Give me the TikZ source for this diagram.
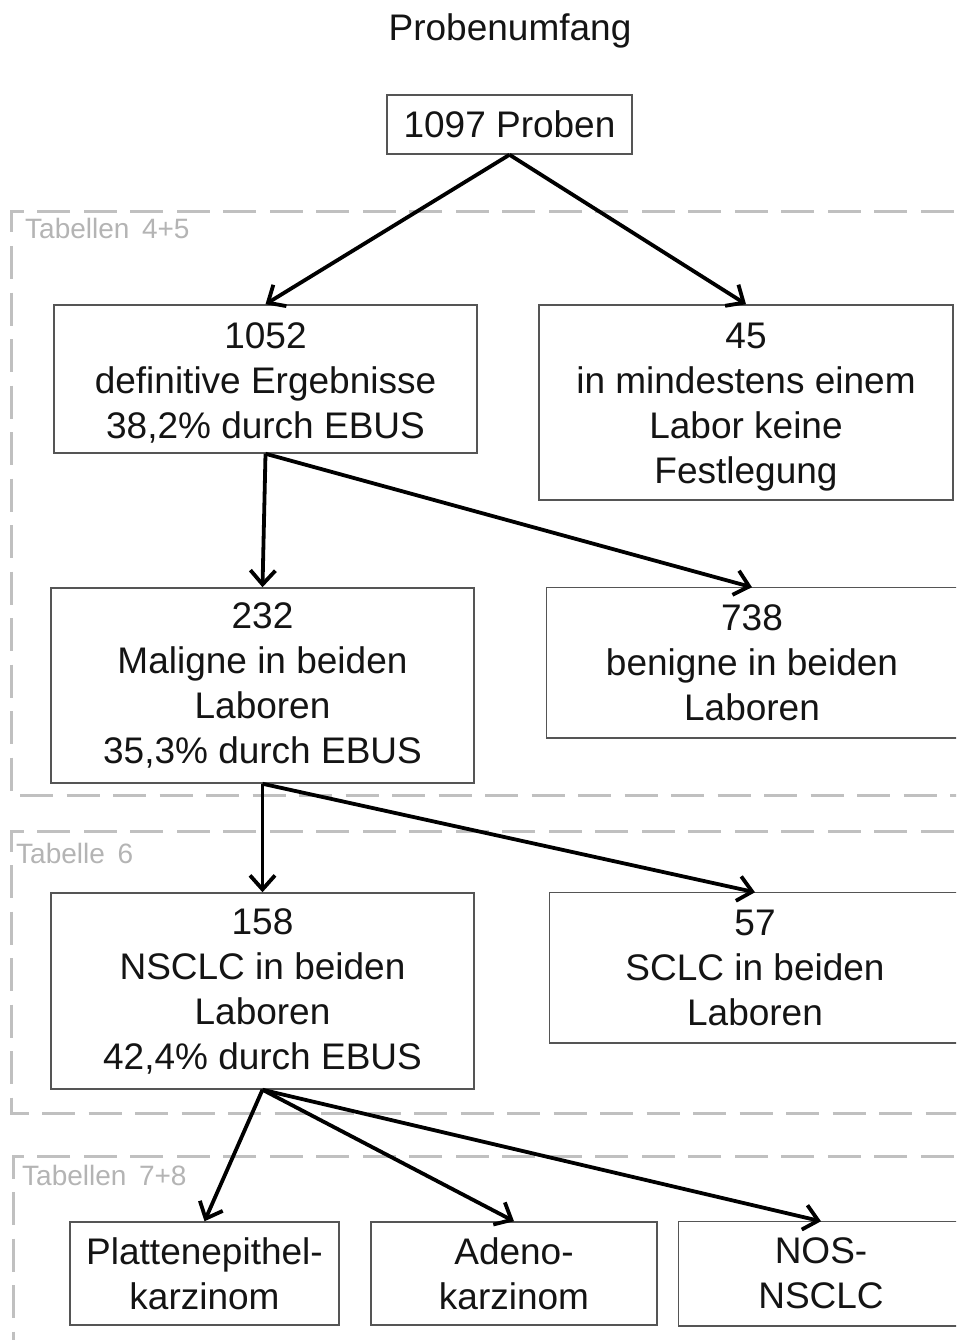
\documentclass[tikz,border=0pt]{standalone}
\usepackage{fontspec}
\setmainfont{Liberation Sans}
\usetikzlibrary{arrows.meta}
\definecolor{boxline}{RGB}{85,85,85}
\definecolor{grpline}{RGB}{192,192,192}
\definecolor{grptext}{RGB}{180,180,180}
\definecolor{ink}{RGB}{20,20,20}
\newcommand{\tallstrut}{\rule{0pt}{34pt}}
\tikzset{
  stepbox/.style={draw=boxline, line width=1.5pt, rectangle, align=center,
    inner sep=0pt, text=ink, font=\fontsize{37}{45}\selectfont},
  openbox/.style={stepbox, draw=none},
  edge/.style={draw=boxline, line width=1.5pt},
  group/.style={draw=grpline, line width=3pt, dash pattern=on 33pt off 13.5pt},
  grplabel/.style={anchor=west, inner sep=0pt, text=grptext,
    font=\fontsize{28}{32}\selectfont},
  flow/.style={draw=black, line width=3.8pt,
    -{Straight Barb[length=14pt,width=25pt,line width=3.8pt]}}
}
\begin{document}
\begin{tikzpicture}[x=1pt,y=-1pt]
\useasboundingbox (0,0) rectangle (956,1340);
\fill[white] (0,0) rectangle (956,1340);
\clip (0,0) rectangle (956,1340);

% dashed table groups
\draw[group] (1000,212) -- (11,212) -- (11,795) -- (1000,795);
\draw[group] (1000,831) -- (11,831) -- (11,1113) -- (1000,1113);
\draw[group] (1000,1156) -- (13,1156) -- (13,1400);
\node[grplabel] (g1) at (25,228) {Tabellen\hspace{0.45em}4+5};
\node[grplabel] (g2) at (16,853) {Tabelle\hspace{0.45em}6};
\node[grplabel] (g3) at (22,1175) {Tabellen\hspace{0.45em}7+8};

% title
\node[text=ink, font=\fontsize{37}{45}\selectfont] (title) at (510,31) {Probenumfang};

% boxes
\node[stepbox, minimum width=245pt, minimum height=59pt] (p1097) at (509.5,124.5) {1097 Proben};
\node[stepbox, minimum width=423pt, minimum height=148pt] (b1052) at (265.5,379)
  {\tallstrut 1052\\definitive Ergebnisse\\38,2\% durch EBUS};
\node[stepbox, minimum width=414pt, minimum height=195pt] (b45) at (746,402.5)
  {\tallstrut 45\\in mindestens einem\\Labor keine\\Festlegung};
\node[stepbox, minimum width=423pt, minimum height=195pt] (b232) at (262.5,685.5)
  {232\\Maligne in beiden\\Laboren\\35,3\% durch EBUS};
\node[openbox, minimum width=410pt, minimum height=149pt] (b738) at (752,662.5)
  {738\\benigne in beiden\\Laboren};
\node[stepbox, minimum width=423pt, minimum height=196pt] (b158) at (262.5,991)
  {158\\NSCLC in beiden\\Laboren\\42,4\% durch EBUS};
\node[openbox, minimum width=410pt, minimum height=149pt] (b57) at (755,967.5)
  {57\\SCLC in beiden\\Laboren};
\node[stepbox, minimum width=269pt, minimum height=103pt] (pk) at (204.5,1273.5)
  {Plattenepithel-\\karzinom};
\node[stepbox, minimum width=286pt, minimum height=103pt] (ak) at (514,1273.5)
  {Adeno-\\karzinom};
\node[openbox, minimum width=284pt, minimum height=103pt] (nos) at (821,1273.5)
  {NOS-\\NSCLC};

% boxes that run past the right margin
\draw[edge] (b738.north west) rectangle ([xshift=20pt]b738.south east);
\draw[edge] (b57.north west) rectangle ([xshift=20pt]b57.south east);
\draw[edge] (nos.north west) rectangle ([xshift=20pt]nos.south east);

% connectors
\draw[flow] (p1097.south) -- (b1052.north);
\draw[flow] (p1097.south) -- (b45.north);
\draw[flow] (b1052.south) -- (b232.north);
\draw[flow] (b1052.south) -- (b738.north);
\draw[flow] (b232.south) -- (b158.north);
\draw[flow] (b232.south) -- (b57.north);
\draw[flow] (b158.south) -- (pk.north);
\draw[flow] (b158.south) -- (ak.north);
\draw[flow] (b158.south) -- (nos.north);
\end{tikzpicture}
\end{document}
